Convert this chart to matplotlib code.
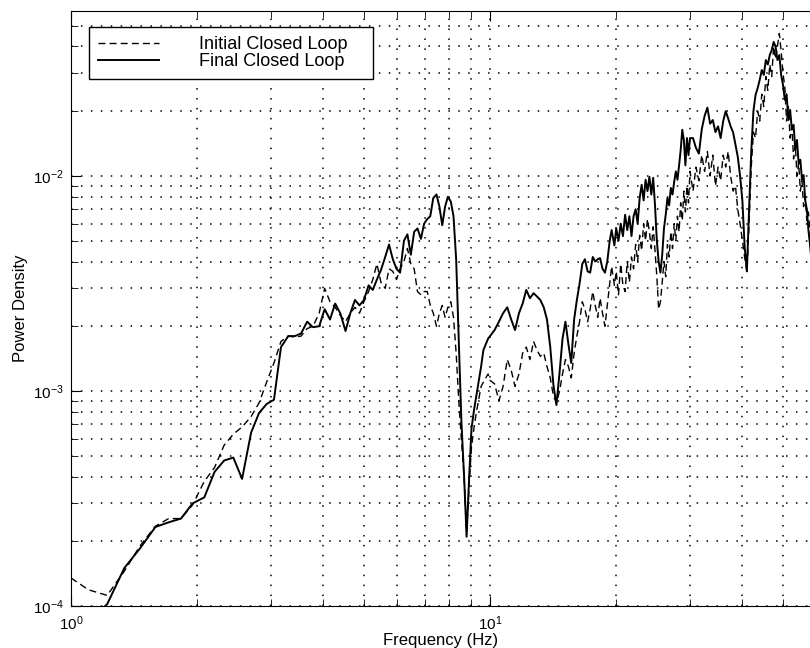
import matplotlib.pyplot as plt
from matplotlib.ticker import LogLocator, NullFormatter

plt.rcParams.update({'font.family': 'Liberation Sans', 'mathtext.default': 'regular'})

# frequency samples (Hz)
freq = [1.00, 1.10, 1.22, 1.34, 1.46, 1.59, 1.71, 1.83, 1.95, 2.08, 2.20, 2.32, 2.44, 2.56, 2.69, 2.81, 2.93, 3.05,
        3.17, 3.30, 3.42, 3.54, 3.66, 3.78, 3.91, 4.03, 4.15, 4.27, 4.39, 4.52, 4.64, 4.76, 4.88,
        5.00, 5.13, 5.25, 5.37, 5.49, 5.62, 5.74, 5.86, 5.98, 6.10,
        6.23, 6.35, 6.47, 6.59, 6.71, 6.84, 6.96, 7.08, 7.20, 7.32, 7.45, 7.57, 7.69, 7.81, 7.93,
        8.06, 8.18, 8.30, 8.42, 8.54, 8.67, 8.79, 8.91, 9.03, 9.16, 9.28, 9.40, 9.52, 9.64, 9.77, 9.89,
        10.0, 10.25, 10.5, 10.74, 10.99, 11.23, 11.47, 11.72, 11.96, 12.2, 12.45, 12.7, 12.94, 13.18, 13.43,
        13.67, 13.92, 14.16, 14.4, 14.65, 14.89, 15.13, 15.38, 15.62, 15.87, 16.11, 16.35, 16.6, 16.84, 17.09,
        17.33, 17.58, 17.82, 18.07, 18.3, 18.55, 18.8, 19.04, 19.3, 19.5, 19.8,
        20.0, 20.25, 20.5, 20.75, 21.0, 21.25, 21.5, 21.75, 22.0, 22.25, 22.5, 22.75, 23.0, 23.25, 23.5,
        23.75, 24.0, 24.25, 24.5, 24.75, 25.0, 25.25, 25.5, 25.75, 26.0, 26.25, 26.5, 26.75, 27.0, 27.25,
        27.5, 27.75, 28.0, 28.25, 28.5, 28.75, 29.0, 29.25, 29.5, 29.75,
        30.0, 30.5, 31.0, 31.5, 32.0, 32.5, 33.0, 33.5, 34.0, 34.5, 35.0, 35.5, 36.0, 36.5, 37.0,
        37.5, 38.0, 38.5, 39.0, 39.5, 40.0, 40.5, 41.0, 41.5, 42.0, 42.5, 43.0, 43.5, 44.0, 44.5,
        45.0, 45.5, 46.0, 46.5, 47.0, 47.5, 48.0, 48.5, 49.0, 49.5, 50.0, 50.5, 51.0, 51.5, 52.0,
        52.5, 53.0, 53.5, 54.0, 54.5, 55.0, 55.5, 56.0, 56.5, 57.0, 57.5, 58.0, 58.5]

initial_cl = [1.35e-4, 1.19e-4, 1.12e-4, 1.45e-4, 1.9e-4, 2.35e-4, 2.55e-4, 2.55e-4, 2.95e-4, 3.8e-4,
              4.4e-4, 5.6e-4, 6.3e-4, 6.8e-4, 7.6e-4, 8.8e-4, 1.1e-3, 1.35e-3,
              1.7e-3, 1.8e-3, 1.78e-3, 1.8e-3, 1.95e-3, 2.0e-3, 2.3e-3, 3.0e-3, 2.6e-3, 2.45e-3,
              2.25e-3, 2.1e-3, 2.3e-3, 2.45e-3, 2.3e-3, 2.6e-3, 2.9e-3, 3.3e-3, 3.9e-3, 3.2e-3,
              3.0e-3, 3.7e-3, 3.6e-3, 3.3e-3, 3.7e-3,
              4.0e-3, 4.6e-3, 3.9e-3, 3.7e-3, 2.9e-3, 2.8e-3, 2.9e-3, 2.9e-3, 2.5e-3, 2.3e-3,
              2.0e-3, 2.3e-3, 2.5e-3, 2.2e-3, 2.45e-3, 2.6e-3, 2.2e-3, 1.5e-3, 9.0e-4, 6.0e-4,
              4.0e-4, 2.2e-4, 3.6e-4, 5.5e-4, 6.8e-4, 8.0e-4, 9.2e-4, 1.05e-3, 1.1e-3, 1.15e-3, 1.2e-3,
              1.12e-3, 1.08e-3, 9.0e-4, 1.05e-3, 1.4e-3, 1.25e-3, 1.05e-3, 1.2e-3, 1.5e-3, 1.6e-3,
              1.4e-3, 1.7e-3, 1.55e-3, 1.45e-3, 1.5e-3, 1.3e-3, 1.15e-3, 9.5e-4, 8.8e-4, 1.0e-3,
              1.2e-3, 1.4e-3, 1.3e-3, 1.15e-3, 1.5e-3, 1.8e-3, 2.1e-3, 2.6e-3, 2.4e-3, 2.1e-3,
              2.4e-3, 2.9e-3, 2.5e-3, 2.2e-3, 2.7e-3, 2.3e-3, 2.0e-3, 2.5e-3, 3.2e-3, 3.8e-3, 3.1e-3,
              3.6e-3, 2.8e-3, 3.9e-3, 3.1e-3, 2.9e-3, 4.0e-3, 3.2e-3, 4.2e-3, 3.7e-3, 4.8e-3,
              4.0e-3, 5.3e-3, 4.5e-3, 6.0e-3, 5.0e-3, 6.3e-3, 5.5e-3, 4.6e-3, 5.8e-3, 4.5e-3,
              3.4e-3, 2.4e-3, 2.6e-3, 3.2e-3, 4.0e-3, 3.4e-3, 4.8e-3, 4.2e-3, 5.5e-3, 4.6e-3,
              6.0e-3, 5.0e-3, 6.5e-3, 5.5e-3, 7.5e-3, 6.2e-3, 8.5e-3, 6.8e-3, 9.0e-3, 7.5e-3,
              0.0105, 0.0085, 0.0110, 0.0095, 0.0125, 0.0105, 0.0130, 0.0100, 0.0125, 0.0090,
              0.0110, 0.0095, 0.0125, 0.0110, 0.0130, 0.0100, 0.0085, 0.0090, 0.0070, 0.0060,
              0.0050, 0.0042, 0.0036, 0.0060, 0.0110, 0.0160, 0.0150, 0.0200, 0.0180, 0.0240,
              0.0210, 0.0290, 0.0250, 0.0330, 0.0290, 0.0400, 0.0350, 0.0400, 0.0460, 0.0380,
              0.0300, 0.0260, 0.0180, 0.0210, 0.0150, 0.0170, 0.0120, 0.0140, 0.0100, 0.0115,
              0.0085, 0.0095, 0.0072, 0.0080, 0.0062, 0.0068, 0.0055, 0.0050]

final_cl = [6.0e-5, 8.5e-5, 1.02e-4, 1.50e-4, 1.85e-4, 2.33e-4, 2.45e-4, 2.55e-4, 3.0e-4, 3.2e-4,
            4.2e-4, 4.75e-4, 4.9e-4, 3.9e-4, 6.4e-4, 7.9e-4, 8.7e-4, 9.1e-4,
            1.6e-3, 1.8e-3, 1.8e-3, 1.85e-3, 2.1e-3, 1.98e-3, 2.0e-3, 2.4e-3, 2.15e-3, 2.55e-3,
            2.3e-3, 1.9e-3, 2.3e-3, 2.65e-3, 2.5e-3, 2.65e-3, 3.1e-3, 2.95e-3, 3.3e-3, 3.65e-3,
            4.2e-3, 4.8e-3, 4.1e-3, 3.7e-3, 3.55e-3,
            5.0e-3, 5.35e-3, 4.3e-3, 5.5e-3, 5.7e-3, 5.1e-3, 6.0e-3, 6.3e-3, 6.5e-3, 7.9e-3,
            8.2e-3, 7.2e-3, 5.9e-3, 7.2e-3, 8.0e-3, 7.6e-3, 6.5e-3, 4.1e-3, 1.73e-3, 7.3e-4,
            4.0e-4, 2.1e-4, 3.9e-4, 6.7e-4, 8.2e-4, 9.6e-4, 1.12e-3, 1.3e-3, 1.55e-3, 1.65e-3, 1.75e-3,
            1.8e-3, 1.92e-3, 2.1e-3, 2.3e-3, 2.45e-3, 2.15e-3, 1.92e-3, 2.3e-3, 2.55e-3, 2.95e-3,
            2.7e-3, 2.85e-3, 2.75e-3, 2.65e-3, 2.45e-3, 2.15e-3, 1.6e-3, 1.07e-3, 8.6e-4, 1.22e-3,
            1.75e-3, 2.1e-3, 1.65e-3, 1.35e-3, 2.15e-3, 2.65e-3, 3.15e-3, 3.9e-3, 4.1e-3, 3.6e-3,
            3.55e-3, 4.2e-3, 4.0e-3, 4.1e-3, 4.15e-3, 3.7e-3, 3.55e-3, 4.0e-3, 5.0e-3, 5.6e-3, 4.75e-3,
            5.7e-3, 5.0e-3, 6.0e-3, 5.25e-3, 6.6e-3, 5.6e-3, 6.5e-3, 5.25e-3, 6.5e-3, 7.0e-3,
            6.0e-3, 7.9e-3, 9.1e-3, 7.7e-3, 9.6e-3, 8.5e-3, 9.9e-3, 8.2e-3, 9.8e-3, 7.3e-3,
            5.0e-3, 4.0e-3, 3.55e-3, 4.3e-3, 5.7e-3, 6.6e-3, 7.9e-3, 7.3e-3, 8.8e-3, 8.2e-3,
            9.4e-3, 0.0105, 9.6e-3, 0.0112, 0.0132, 0.0164, 0.0147, 0.0112, 0.0150, 0.0125,
            0.0150, 0.0150, 0.0135, 0.0127, 0.0165, 0.0190, 0.0208, 0.0175, 0.0182, 0.0160,
            0.0170, 0.0150, 0.0180, 0.0200, 0.0185, 0.0170, 0.0160, 0.0140, 0.0123, 0.0100,
            0.0077, 0.0047, 0.0036, 0.0070, 0.0130, 0.0200, 0.0238, 0.0256, 0.0280, 0.0311,
            0.0295, 0.0346, 0.0330, 0.0365, 0.0385, 0.0420, 0.0400, 0.0346, 0.0365, 0.0295,
            0.0265, 0.0226, 0.0240, 0.0182, 0.0203, 0.0164, 0.0173, 0.0132, 0.0147, 0.0114,
            0.0119, 0.0096, 0.0101, 0.0077, 0.0070, 0.0056, 0.0048, 0.0040]

fig = plt.figure(figsize=(8.1, 6.48), dpi=100)
ax = fig.add_axes([71/810, 42/648, 739/810, 595/648])

ax.loglog(freq, initial_cl, color='black', lw=1.0, ls=(0, (5, 3)), label='Initial Closed Loop')
ax.loglog(freq, final_cl, color='black', lw=1.4, label='Final Closed Loop')

ax.set_xlim(1, 58.0)
ax.set_ylim(1e-4, 0.0585)
ax.spines['right'].set_visible(False)

# matlab style dotted grid on every decade and sub-decade
ax.set_axisbelow(True)
ax.grid(True, which='both', color='black', ls=(0, (1, 5.5)), lw=1.1)
ax.xaxis.set_minor_locator(LogLocator(base=10, subs=range(2, 10)))
ax.yaxis.set_minor_locator(LogLocator(base=10, subs=range(2, 10)))
ax.xaxis.set_minor_formatter(NullFormatter())
ax.yaxis.set_minor_formatter(NullFormatter())
ax.tick_params(which='both', direction='in', top=True, right=False, labelsize=11)
ax.tick_params(which='major', length=7)
ax.tick_params(which='minor', length=5)
ax.tick_params(axis='x', which='major', pad=6)
ax.tick_params(axis='y', which='major', pad=5)

ax.set_xlabel('Frequency (Hz)', fontsize=12, labelpad=0)
ax.set_ylabel('Power Density', fontsize=12, labelpad=4)

leg = ax.legend(loc='upper left', bbox_to_anchor=(0.024, 0.90, 0.384, 0.073), mode='expand',
                borderaxespad=0, fontsize=13, fancybox=False, edgecolor='black', framealpha=1,
                handlelength=3.4, handletextpad=2.2, borderpad=0.5, labelspacing=0.0)
leg.get_frame().set_linewidth(1.0)

fig.savefig('out.png', dpi=100)
